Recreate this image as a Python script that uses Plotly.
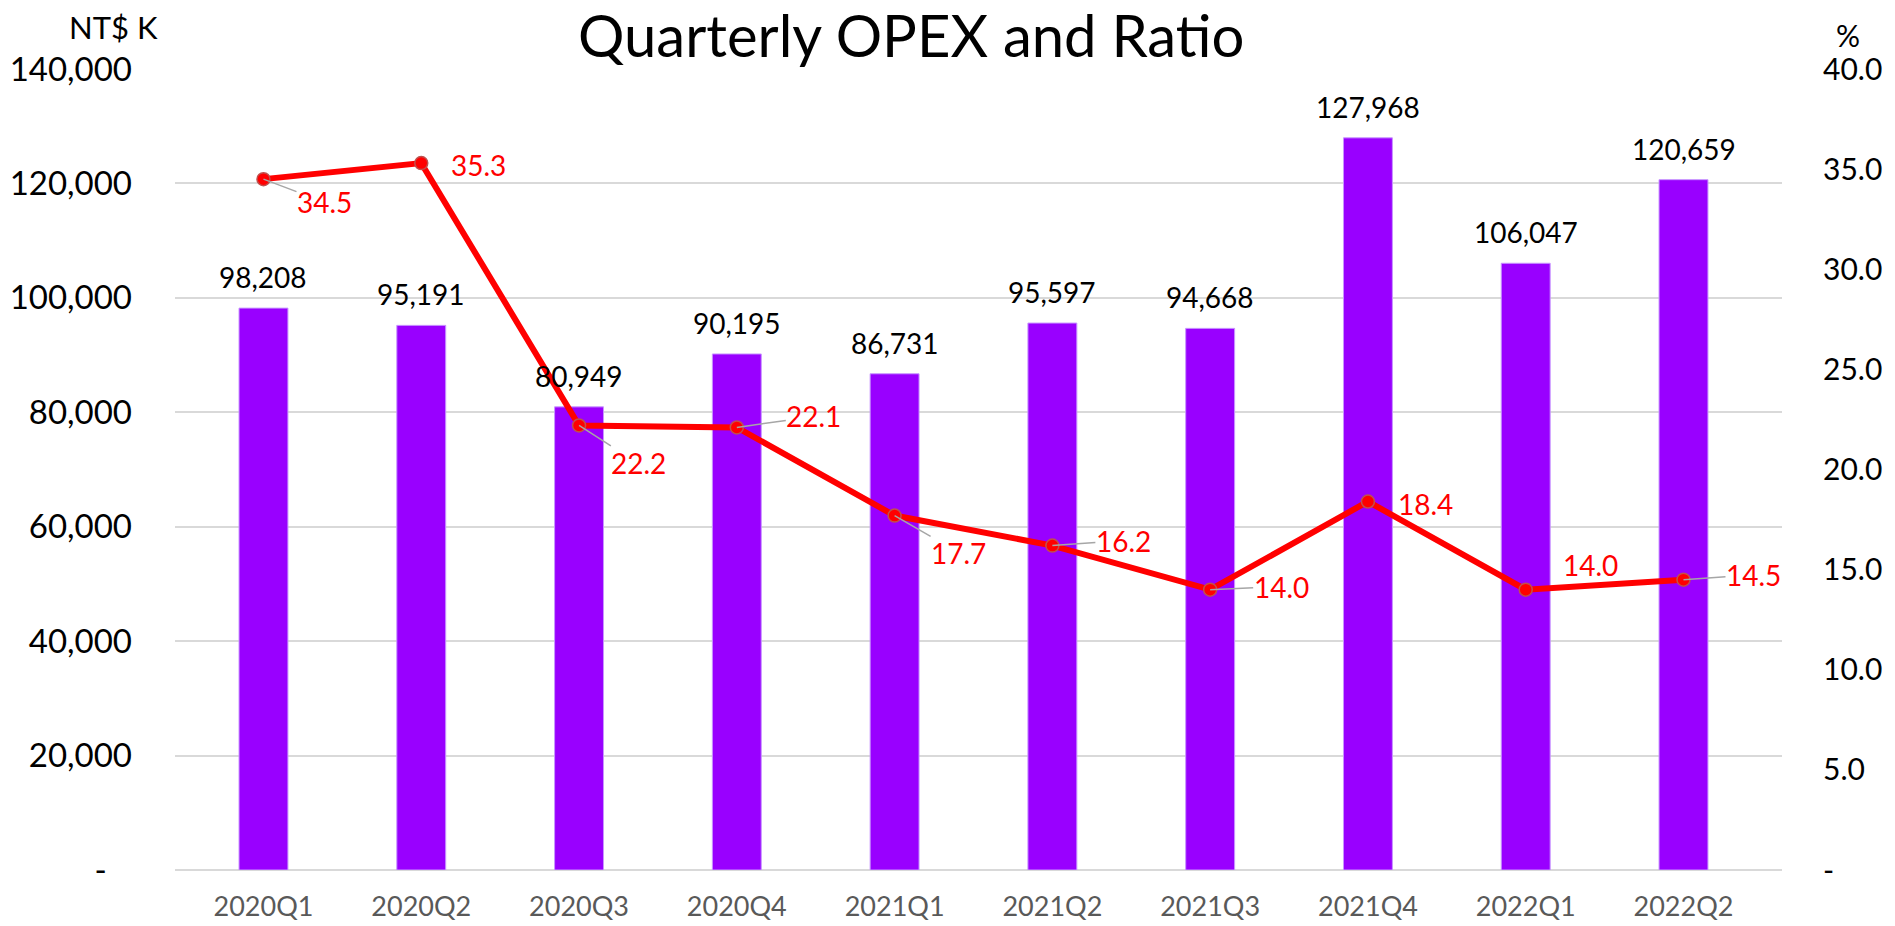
import plotly.graph_objects as go

# ---- data ----
quarters = ["2020Q1", "2020Q2", "2020Q3", "2020Q4", "2021Q1",
            "2021Q2", "2021Q3", "2021Q4", "2022Q1", "2022Q2"]
opex = [98208, 95191, 80949, 90195, 86731, 95597, 94668, 127968, 106047, 120659]
ratio = [34.5, 35.3, 22.2, 22.1, 17.7, 16.2, 14.0, 18.4, 14.0, 14.5]

left_ticks = [0, 20000, 40000, 60000, 80000, 100000, 120000, 140000]
left_ticktext = ["-\u00a0\u00a0\u00a0", "20,000", "40,000", "60,000", "80,000",
                 "100,000", "120,000", "140,000"]
right_ticks = [0, 5, 10, 15, 20, 25, 30, 35, 40]
right_ticktext = ["-", "5.0", "10.0", "15.0", "20.0", "25.0", "30.0", "35.0", "40.0"]

# label offsets (pixels) and whether a leader line is drawn
ratio_label_dx = [61, 57, 59, 77, 64, 71, 71, 58, 65, 70]
ratio_label_dy = [23, 2, 38, -11, 37, -5, -3, 2, -25, -5]
ratio_leader = [True, False, True, True, True, True, True, False, False, True]

FONT = "Lato"
W, H = 1895, 926
ML, MR, MT, MB = 175, 113, 69, 56
PW, PH = W - ML - MR, H - MT - MB

def px_to_paper(px, py):
    return (px - ML) / PW, (H - MB - py) / PH

fig = go.Figure()

fig.add_trace(go.Bar(
    x=quarters, y=opex, name="OPEX",
    marker=dict(color="#9900FF", line=dict(color="#C896FF", width=1)),
    yaxis="y",
))

fig.add_trace(go.Scatter(
    x=quarters, y=ratio, name="Ratio", mode="lines+markers",
    line=dict(color="#FF0000", width=6),
    marker=dict(size=13, color="#FF0000", line=dict(color="#C0504D", width=1.5)),
    yaxis="y2",
))

annotations = []
# bar value labels
for q, v in zip(quarters, opex):
    annotations.append(dict(
        x=q, y=v, xref="x", yref="y", text=f"{v:,}", showarrow=False,
        yanchor="bottom", yshift=12,
        font=dict(family=FONT, size=28, color="#000000"),
    ))
# ratio labels
for q, r, dx, dy, lead in zip(quarters, ratio, ratio_label_dx, ratio_label_dy, ratio_leader):
    annotations.append(dict(
        x=q, y=r, xref="x", yref="y2", text=f"{r:.1f}",
        showarrow=True, arrowhead=0, arrowwidth=1.5,
        arrowcolor="#A6A6A6" if lead else "rgba(0,0,0,0)",
        ax=dx, ay=dy, axref="pixel", ayref="pixel",
        font=dict(family=FONT, size=28, color="#FF0000"),
        borderpad=0,
    ))

tx, ty = px_to_paper(911, 35)
annotations.append(dict(x=tx, y=ty, xref="paper", yref="paper", showarrow=False,
                        text="Quarterly OPEX and Ratio", xanchor="center", yanchor="middle",
                        font=dict(family=FONT, size=58, color="#000000")))
nx, ny = px_to_paper(113, 27)
annotations.append(dict(x=nx, y=ny, xref="paper", yref="paper", showarrow=False,
                        text="NT$ K", xanchor="center", yanchor="middle",
                        font=dict(family=FONT, size=31, color="#000000")))
px_, py_ = px_to_paper(1848, 35)
annotations.append(dict(x=px_, y=py_, xref="paper", yref="paper", showarrow=False,
                        text="%", xanchor="center", yanchor="middle",
                        font=dict(family=FONT, size=30, color="#000000")))

fig.update_layout(
    width=W, height=H,
    margin=dict(l=ML, r=MR, t=MT, b=MB, pad=0, autoexpand=False),
    paper_bgcolor="white", plot_bgcolor="white",
    showlegend=False,
    bargap=0.69,
    font=dict(family=FONT),
    xaxis=dict(
        type="category", showgrid=False, showline=False, ticks="",
        automargin=False,
        tickfont=dict(family=FONT, size=27, color="#595959"),
        ticklabelstandoff=18,
    ),
    yaxis=dict(
        range=[0, 140000], tickvals=left_ticks, ticktext=left_ticktext,
        showgrid=True, gridcolor="#D9D9D9", gridwidth=1.5,
        zeroline=True, zerolinecolor="#D9D9D9", zerolinewidth=2,
        showline=False, ticks="", automargin=False,
        tickfont=dict(family=FONT, size=33, color="#000000"),
        ticklabelstandoff=42,
    ),
    yaxis2=dict(
        range=[0, 40], tickvals=right_ticks, ticktext=right_ticktext,
        overlaying="y", side="right", showgrid=False, zeroline=False,
        showline=False, ticks="", automargin=False,
        tickfont=dict(family=FONT, size=30, color="#000000"),
        ticklabelstandoff=40,
    ),
    annotations=annotations,
)

fig.write_html(
    "out.html",
    config={"displayModeBar": False},
    post_script="document.body.style.margin='0';document.body.style.overflow='hidden';",
)
